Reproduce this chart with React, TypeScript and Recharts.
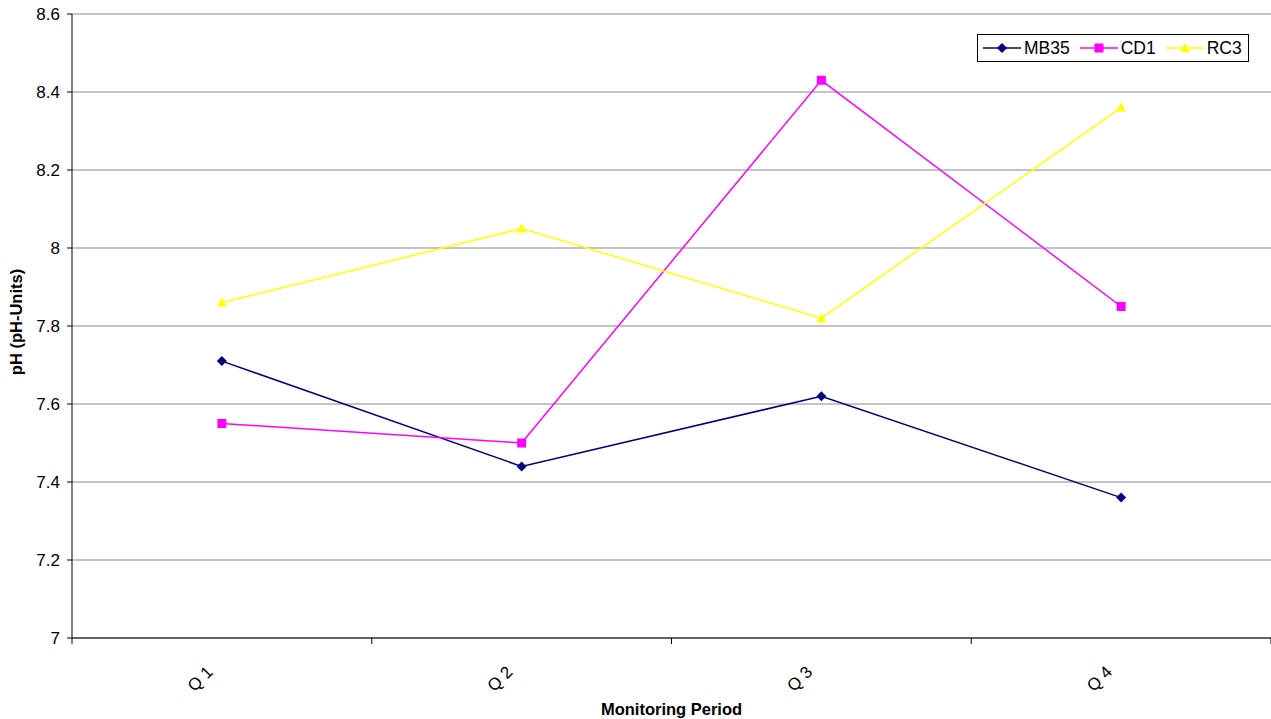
import { LineChart, Line, XAxis, YAxis, CartesianGrid, Legend, Label } from 'recharts';

const quarters = ['Q 1', 'Q 2', 'Q 3', 'Q 4'];
const mb35 = [7.71, 7.44, 7.62, 7.36];
const cd1 = [7.55, 7.5, 8.43, 7.85];
const rc3 = [7.86, 8.05, 7.82, 8.36];
const yTicks = [7, 7.2, 7.4, 7.6, 7.8, 8, 8.2, 8.4, 8.6];
// category centres sit on whole numbers, band edges on the halves
const xTicks = [0.5, 1, 1.5, 2, 2.5, 3, 3.5, 4, 4.5];

const series = [
  { key: 'MB35', values: mb35, color: '#000080', shape: 'diamond' },
  { key: 'CD1', values: cd1, color: '#FF00FF', shape: 'square' },
  { key: 'RC3', values: rc3, color: '#FFFF00', shape: 'triangle' },
];

const data = quarters.map((q, i) => ({
  pos: i + 1,
  label: q,
  MB35: mb35[i],
  CD1: cd1[i],
  RC3: rc3[i],
}));

const FONT = '"Liberation Sans", Arial, sans-serif';

function Marker({ cx, cy, shape, color }: any) {
  if (cx == null || cy == null) return null;
  if (shape === 'diamond') {
    return <polygon points={`${cx},${cy - 5} ${cx + 5},${cy} ${cx},${cy + 5} ${cx - 5},${cy}`} fill={color} />;
  }
  if (shape === 'square') {
    return <rect x={cx - 4.5} y={cy - 4.5} width={9} height={9} fill={color} />;
  }
  return <polygon points={`${cx},${cy - 5} ${cx + 5},${cy + 4} ${cx - 5},${cy + 4}`} fill={color} />;
}

function XTick({ x, y, payload }: any) {
  const v = payload.value;
  if (!Number.isInteger(v)) {
    return <line x1={x} y1={y - 6} x2={x} y2={y} stroke="#000" strokeWidth={1} />;
  }
  const text = quarters[v - 1];
  const tx = x - 8;
  const ty = y + 29;
  return (
    <text
      x={tx}
      y={ty}
      textAnchor="end"
      transform={`rotate(-45, ${tx}, ${ty})`}
      fontSize={17}
      fontFamily={FONT}
      fill="#000"
    >
      {text}
    </text>
  );
}

function LegendBox() {
  return (
    <div
      style={{
        display: 'flex',
        alignItems: 'center',
        border: '1px solid #000',
        background: '#fff',
        padding: '3px 6px 3px 5px',
        height: 20,
        fontFamily: FONT,
        fontSize: 17.5,
        lineHeight: '20px',
        color: '#000',
      }}
    >
      {series.map((s, i) => (
        <div key={s.key} style={{ display: 'flex', alignItems: 'center', marginLeft: i === 0 ? 0 : 10 }}>
          <svg width={38} height={20} style={{ marginRight: 3 }}>
            <line x1={0} y1={10} x2={38} y2={10} stroke={s.color} strokeWidth={1.5} />
            <Marker cx={19} cy={10} shape={s.shape} color={s.color} />
          </svg>
          <span>{s.key}</span>
        </div>
      ))}
    </div>
  );
}

export default function App() {
  return (
    <div style={{ position: 'absolute', left: 0, top: 0, background: '#fff' }}>
      <LineChart
        width={1271}
        height={719}
        data={data}
        margin={{ top: 14, right: 0, bottom: 0, left: 0 }}
        style={{ fontFamily: FONT }}
      >
        <CartesianGrid vertical={false} stroke="#888" strokeWidth={1} />
        <XAxis
          dataKey="pos"
          type="number"
          domain={[0.5, 4.5]}
          ticks={xTicks}
          interval={0}
          height={81}
          tickLine={false}
          tickSize={6}
          tickMargin={0}
          axisLine={{ stroke: '#000', strokeWidth: 1 }}
          tick={<XTick />}
        >
          <Label
            content={({ viewBox }: any) => (
              <text
                x={viewBox.x + viewBox.width / 2}
                y={viewBox.y + 77}
                textAnchor="middle"
                fontSize={16.5}
                fontWeight="bold"
                fontFamily={FONT}
                fill="#000"
              >
                Monitoring Period
              </text>
            )}
          />
        </XAxis>
        <YAxis
          type="number"
          domain={[7, 8.6]}
          ticks={yTicks}
          interval={0}
          width={72}
          tickSize={5}
          tickMargin={7}
          tickLine={{ stroke: '#000' }}
          axisLine={{ stroke: '#000', strokeWidth: 1 }}
          tick={{ fill: '#000', fontSize: 17, fontFamily: FONT }}
          tickFormatter={(v: number) => String(+v.toFixed(1))}
        >
          <Label
            content={({ viewBox }: any) => {
              const cx = viewBox.x + 16;
              const cy = viewBox.y + viewBox.height / 2 - 4;
              return (
                <text
                  x={cx}
                  y={cy}
                  textAnchor="middle"
                  dominantBaseline="central"
                  transform={`rotate(-90, ${cx}, ${cy})`}
                  fontSize={16.5}
                  fontWeight="bold"
                  fontFamily={FONT}
                  fill="#000"
                >
                  pH (pH-Units)
                </text>
              );
            }}
          />
        </YAxis>
        <Legend
          layout="horizontal"
          verticalAlign="middle"
          content={<LegendBox />}
          wrapperStyle={{ position: 'absolute', left: 977, top: 34, width: 'auto' }}
        />
        {series.map((s) => (
          <Line
            key={s.key}
            dataKey={s.key}
            type="linear"
            stroke={s.color}
            strokeWidth={1.5}
            dot={(p: any) => <Marker key={`${s.key}-${p.index}`} cx={p.cx} cy={p.cy} shape={s.shape} color={s.color} />}
            activeDot={false}
            isAnimationActive={false}
          />
        ))}
      </LineChart>
    </div>
  );
}
